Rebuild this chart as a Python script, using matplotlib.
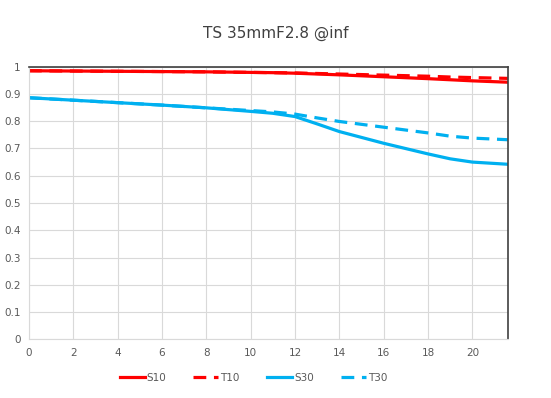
import matplotlib
matplotlib.use('Agg')
import matplotlib.pyplot as plt

# image height (mm) and MTF values
height = [0, 2, 4, 6, 8, 10, 11, 12, 13, 14, 16, 18, 19, 20, 21.6]
s10 = [0.985, 0.984, 0.983, 0.982, 0.981, 0.979, 0.978, 0.976, 0.973, 0.970, 0.963, 0.956, 0.952, 0.948, 0.943]
t10 = [0.985, 0.984, 0.983, 0.982, 0.981, 0.979, 0.978, 0.977, 0.975, 0.973, 0.969, 0.965, 0.962, 0.960, 0.957]
s30 = [0.886, 0.877, 0.868, 0.859, 0.849, 0.836, 0.829, 0.817, 0.790, 0.762, 0.719, 0.680, 0.662, 0.650, 0.642]
t30 = [0.886, 0.877, 0.868, 0.859, 0.849, 0.839, 0.834, 0.826, 0.812, 0.799, 0.778, 0.757, 0.745, 0.738, 0.732]

red = '#ff0000'
blue = '#00b0f0'
dash = (0, (4, 2.4))

fig = plt.figure(figsize=(5.51, 3.98), dpi=100)
ax = fig.add_axes([0.0526, 0.1475, 0.869, 0.685])

ax.plot(height, s10, color=red, lw=2.3, label='S10')
ax.plot(height, t10, color=red, lw=2.3, ls=dash, label='T10')
ax.plot(height, s30, color=blue, lw=2.3, label='S30')
ax.plot(height, t30, color=blue, lw=2.3, ls=dash, label='T30')

ax.set_xlim(0, 21.6)
ax.set_ylim(0, 1)
ax.set_xticks(range(0, 22, 2))
ax.set_yticks([i / 10 for i in range(11)])
ax.set_yticklabels(['0', '0.1', '0.2', '0.3', '0.4', '0.5', '0.6', '0.7', '0.8', '0.9', '1'])
ax.grid(True, color='#d9d9d9', lw=0.8)
ax.set_axisbelow(True)
ax.tick_params(length=0, labelsize=7.5, colors='#595959', pad=6)

for s in ['left', 'bottom']:
    ax.spines[s].set_color('#d9d9d9')
for s in ['top', 'right']:
    ax.spines[s].set_color('#404040')
    ax.spines[s].set_linewidth(1.2)

fig.suptitle('TS 35mmF2.8 @inf', y=0.935, fontsize=11, color='#404040')
fig.legend(loc='center', bbox_to_anchor=(0.46, 0.05), ncol=4, frameon=False,
           fontsize=7.5, handlelength=2.4, columnspacing=2.6, handletextpad=0.2,
           labelcolor='#595959')

fig.savefig('out.png', dpi=100)
